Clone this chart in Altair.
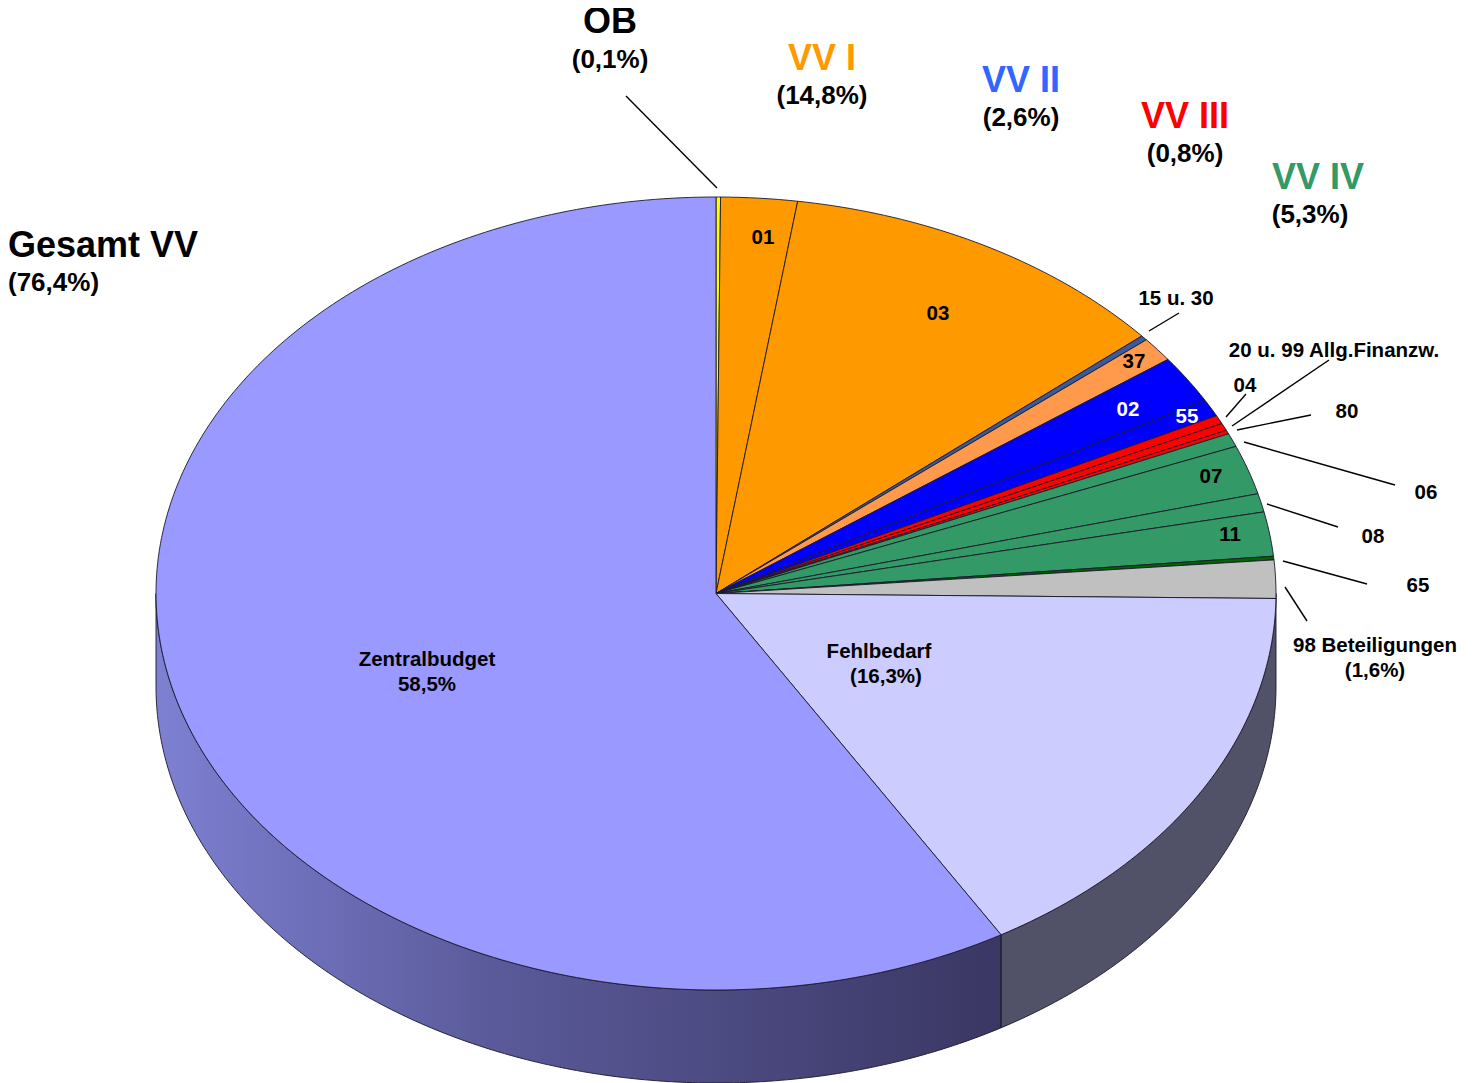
import math
import altair as alt
import pandas as pd

# ---- values (percent of the whole, clockwise from 12 o'clock) ----
sector_names = ["OB", "01", "03", "15 u. 30", "37", "02", "55", "04", "20 u. 99", "80",
                "06", "07", "08", "11", "65", "98", "Fehlbedarf", "Zentralbudget"]
sector_values = [0.13, 2.2, 11.42, 0.2, 1.0, 1.95, 0.7, 0.35, 0.3, 0.15,
                 0.55, 2.0, 0.75, 1.8, 0.15, 1.55, 16.3, 58.5]
sector_colors = ["#ffff00", "#ff9900", "#ff9900", "#3a5a9c", "#ff9a4d", "#0000ff", "#0000ff",
                 "#ff0000", "#ff0000", "#ff0000", "#339966", "#339966", "#339966", "#339966",
                 "#006600", "#c0c0c0", "#ccccff", "#9999ff"]

# ---- layout (not data) ----
W, H = 1462, 1075
CX, CY, RX, RY = 708.0, 585.5, 560.0, 396.5
DEPTH = 93.0 / RY

xs = alt.Scale(domain=[-CX / RX, (W - CX) / RX], range=[0, W], nice=False, zero=False)
ys = alt.Scale(domain=[CY / RY, (CY - H) / RY], range=[0, H], nice=False, zero=False)


def rim(pct):
    t = pct / 100 * 2 * math.pi
    return math.sin(t), math.cos(t)


rows = []
start = 0.0
for name, value, color in zip(sector_names, sector_values, sector_colors):
    steps = max(2, int(value * 4))
    rows.append(dict(s=name, c=color, i=0, x=0.0, y=0.0))
    for k in range(steps + 1):
        px, py = rim(start + value * k / steps)
        rows.append(dict(s=name, c=color, i=k + 1, x=px, y=py))
    rows.append(dict(s=name, c=color, i=steps + 2, x=0.0, y=0.0))
    start += value
sectors = pd.DataFrame(rows)

X = alt.X("x:Q", scale=xs, axis=None)
Y = alt.Y("y:Q", scale=ys, axis=None)

top = alt.Chart(sectors).mark_line(strokeWidth=0.9, stroke="#1a1a2a", strokeJoin="round").encode(
    x=X, y=Y, order="i:Q", detail="s:N", fill=alt.Fill("c:N", scale=None, legend=None)
)


def wall(a, b):
    pts = []
    n = int((b - a) * 6)
    for k in range(n + 1):
        px, py = rim(a + (b - a) * k / n)
        pts.append(dict(x=px, y=py, y0=py - DEPTH))
    return pd.DataFrame(pts)


def wall_outline(df):
    top_edge = [dict(x=r.x, y=r.y) for r in df.itertuples()]
    low_edge = [dict(x=r.x, y=r.y0) for r in df.itertuples()][::-1]
    out = pd.DataFrame(top_edge + low_edge + top_edge[:1])
    out["i"] = range(len(out))
    return out


split = sum(sector_values[:-1])
right_wall = wall(25.0, split)
left_wall = wall(split, 75.0)

left_fill = alt.Chart(left_wall).mark_area(
    color=alt.Gradient(
        gradient="linear", x1=1, x2=0, y1=0, y2=0,
        stops=[alt.GradientStop(color="#3a3763", offset=0),
               alt.GradientStop(color="#5a5a9a", offset=0.6),
               alt.GradientStop(color="#7e80d2", offset=1)],
    )
).encode(x=X, y=Y, y2="y0:Q")
right_fill = alt.Chart(right_wall).mark_area(color="#515268").encode(x=X, y=Y, y2="y0:Q")
edge_style = dict(strokeWidth=0.9, stroke="#1a1a2a")
left_edge = alt.Chart(wall_outline(left_wall)).mark_line(**edge_style).encode(x=X, y=Y, order="i:Q")
right_edge = alt.Chart(wall_outline(right_wall)).mark_line(**edge_style).encode(x=X, y=Y, order="i:Q")

OFF = 8
BIG, MID, SMALL = 36, 26, 20.5
ORANGE, BLUE, RED, GREEN = "#ff9900", "#3366ff", "#ff0000", "#339966"
labels = [
    ("OB", 610, 22, BIG, "black", "center"),
    ("(0,1%)", 610, 60, MID, "black", "center"),
    ("VV I", 822, 59, BIG, ORANGE, "center"),
    ("(14,8%)", 822, 96, MID, "black", "center"),
    ("VV II", 1021, 81, BIG, BLUE, "center"),
    ("(2,6%)", 1021, 118, MID, "black", "center"),
    ("VV III", 1185, 117, BIG, RED, "center"),
    ("(0,8%)", 1185, 154, MID, "black", "center"),
    ("VV IV", 1318, 178, BIG, GREEN, "center"),
    ("(5,3%)", 1310, 215, MID, "black", "center"),
    ("Gesamt VV", 8, 246, BIG, "black", "left"),
    ("(76,4%)", 8, 283, MID, "black", "left"),
    ("01", 763, 238, SMALL, "black", "center"),
    ("03", 938, 314, SMALL, "black", "center"),
    ("15 u. 30", 1176, 299, SMALL, "black", "center"),
    ("37", 1134, 362, SMALL, "black", "center"),
    ("20 u. 99 Allg.Finanzw.", 1334, 351, SMALL, "black", "center"),
    ("04", 1245, 386, SMALL, "black", "center"),
    ("02", 1128, 410, SMALL, "white", "center"),
    ("55", 1187, 417, SMALL, "white", "center"),
    ("80", 1347, 412, SMALL, "black", "center"),
    ("06", 1426, 493, SMALL, "black", "center"),
    ("07", 1211, 477, SMALL, "black", "center"),
    ("11", 1230, 535, SMALL, "black", "center"),
    ("08", 1373, 537, SMALL, "black", "center"),
    ("65", 1418, 586, SMALL, "black", "center"),
    ("98 Beteiligungen", 1375, 646, SMALL, "black", "center"),
    ("(1,6%)", 1375, 671, SMALL, "black", "center"),
    ("Fehlbedarf", 879, 652, SMALL, "black", "center"),
    ("(16,3%)", 886, 677, SMALL, "black", "center"),
    ("Zentralbudget", 427, 660, SMALL, "black", "center"),
    ("58,5%", 427, 685, SMALL, "black", "center"),
]
texts = [
    alt.Chart(pd.DataFrame({"t": [t]})).mark_text(
        font="Liberation Sans", fontWeight="bold", fontSize=s, color=c, align=a, baseline="middle"
    ).encode(text="t:N", x=alt.value(px - OFF), y=alt.value(py - OFF))
    for t, px, py, s, c, a in labels
]

leaders = [
    (626, 96, 717, 188), (1149, 331, 1179, 313), (1226, 417, 1246, 394),
    (1232, 426, 1329, 360), (1237, 430, 1311, 415), (1244, 442, 1395, 485),
    (1267, 504, 1338, 527), (1283, 561, 1367, 584), (1285, 587, 1307, 621),
]
rules = [
    alt.Chart(pd.DataFrame({"k": [0]})).mark_rule(color="black", strokeWidth=1.4).encode(
        x=alt.value(a - OFF), y=alt.value(b - OFF), x2=alt.value(c - OFF), y2=alt.value(d - OFF)
    )
    for a, b, c, d in leaders
]

chart = alt.layer(left_fill, right_fill, left_edge, right_edge, top, *rules, *texts).properties(
    width=W, height=H, padding=0, autosize=alt.AutoSizeParams(type="none")
).configure_view(stroke=None).configure(background="white") if False else alt.layer(
    left_fill, right_fill, left_edge, right_edge, top, *rules, *texts
).properties(
    width=W, height=H, padding=0, autosize=alt.AutoSizeParams(type="none")
).configure_view(stroke=None)

chart.save("out.html", embed_options={"renderer": "svg", "actions": False})
